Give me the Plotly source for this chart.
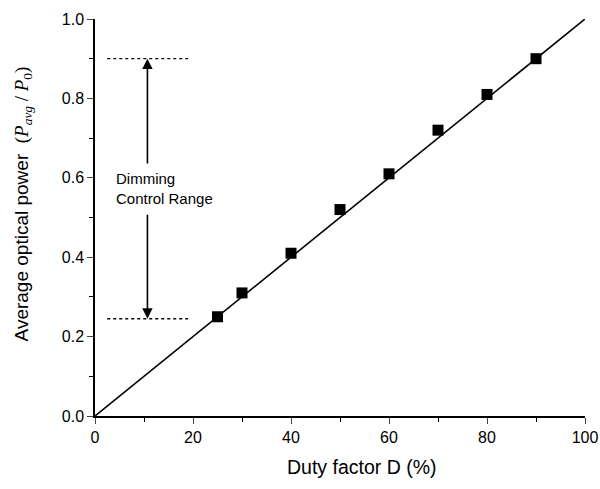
import plotly.graph_objects as go

duty = [25, 30, 40, 50, 60, 70, 80, 90]
power = [0.25, 0.31, 0.41, 0.52, 0.61, 0.72, 0.81, 0.90]
fit_x = [0, 100]
fit_y = [0.0, 1.0]
range_top = 0.90
range_bottom = 0.245
dot_x = [2.5, 19]

fig = go.Figure()
fig.add_trace(go.Scatter(x=fit_x, y=fit_y, mode="lines",
                         line=dict(color="black", width=1.6), showlegend=False))
fig.add_trace(go.Scatter(x=duty, y=power, mode="markers",
                         marker=dict(symbol="square", size=11, color="black"), showlegend=False))
for yv in [range_top, range_bottom]:
    fig.add_trace(go.Scatter(x=dot_x, y=[yv, yv], mode="lines",
                             line=dict(color="black", width=1.3, dash="dot"), showlegend=False))

ax = 10.7
fig.add_annotation(x=ax, y=range_top, ax=ax, ay=0.632, xref="x", yref="y", axref="x", ayref="y",
                   showarrow=True, arrowhead=2, arrowsize=1.3, arrowwidth=1.6, arrowcolor="black", text="")
fig.add_annotation(x=ax, y=range_bottom, ax=ax, ay=0.511, xref="x", yref="y", axref="x", ayref="y",
                   showarrow=True, arrowhead=2, arrowsize=1.3, arrowwidth=1.6, arrowcolor="black", text="")
fig.add_annotation(x=3.8, y=0.572, xref="x", yref="y", text="Dimming<br>Control Range",
                   showarrow=False, xanchor="left", align="left",
                   font=dict(family="Liberation Sans, Arial", size=15, color="black"))

ytitle = ("Average optical power&nbsp;&nbsp;<span style='font-family:Liberation Serif'>"
          "(<i>P</i><sub><i>avg</i></sub> / <i>P</i><sub>0</sub>)</span>")
fig.add_annotation(x=-0.147, y=0.184, xref="paper", yref="paper", text=ytitle, textangle=-90,
                   showarrow=False, xanchor="center", yanchor="bottom",
                   font=dict(family="Liberation Sans, Arial", size=19, color="black"))
fig.add_annotation(x=0.545, y=-0.128, xref="paper", yref="paper", text="Duty factor D (%)",
                   showarrow=False, xanchor="center", yanchor="middle",
                   font=dict(family="Liberation Sans, Arial", size=19.5, color="black"))

fig.update_layout(
    width=600, height=489,
    margin=dict(l=95, r=15, t=19, b=73),
    plot_bgcolor="white", paper_bgcolor="white",
    font=dict(family="Liberation Sans, Arial", size=16, color="black"),
    xaxis=dict(range=[0, 100], tickvals=[0, 20, 40, 60, 80, 100], ticks="outside", ticklen=6,
               tickwidth=1.3, linecolor="black", linewidth=1.5, showline=True, showgrid=False,
               zeroline=False, automargin=False,
               minor=dict(tickvals=[10, 30, 50, 70, 90], ticks="outside", ticklen=4, tickwidth=1.2,
                          tickcolor="black", showgrid=False)),
    yaxis=dict(range=[0, 1.0], tickvals=[0, 0.2, 0.4, 0.6, 0.8, 1.0], tickformat=".1f",
               ticks="outside", ticklen=6, tickwidth=1.3, linecolor="black", linewidth=1.5,
               showline=True, showgrid=False, zeroline=False, automargin=False,
               minor=dict(tickvals=[0.1, 0.3, 0.5, 0.7, 0.9], ticks="outside", ticklen=4,
                          tickwidth=1.2, tickcolor="black", showgrid=False)),
)

fig.write_html("out.html", config={"displayModeBar": False},
               post_script="document.body.style.margin='0';")
